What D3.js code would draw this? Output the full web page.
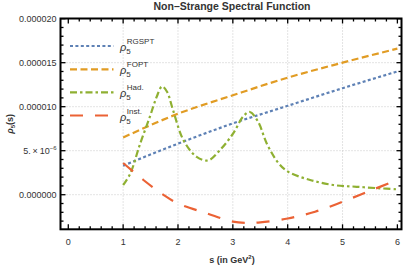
<!DOCTYPE html>
<html>
<head>
<meta charset="utf-8">
<script src="https://cdn.jsdelivr.net/npm/d3@7"></script>
<style>
  body { margin: 0; background: #fff; }
  text { font-family: "Liberation Sans", Arial, sans-serif; }
</style>
</head>
<body>
<div id="chart"></div>
<script>
// values (rho in units of 1e-6)
let sRGSPT = [1, 2, 3, 4, 5, 6];
let vRGSPT = [3.3, 5.8, 8.1, 10.1, 12.1, 14.0];

let sFOPT = [1, 2, 3, 4, 5, 6];
let vFOPT = [6.5, 9.2, 11.3, 13.3, 15.0, 16.6];

let sHad = [1, 1.13, 1.31, 1.49, 1.61, 1.71, 1.8, 1.91, 2.1, 2.34, 2.55, 2.77, 3.01, 3.19, 3.31, 3.46, 3.62, 3.83, 4.01, 4.41, 4.83, 5.26, 5.68, 6];
let vHad = [1.1, 2.4, 5.8, 8.9, 11.1, 12.3, 11.7, 9.6, 6.2, 4.3, 3.9, 5.1, 7.0, 8.9, 9.4, 8.3, 5.8, 3.6, 2.6, 1.67, 1.1, 0.9, 0.73, 0.61];

let sInst = [1, 1.37, 1.73, 2, 2.52, 3, 3.3, 3.5, 4, 4.5, 5, 5.5, 6];
let vInst = [3.6, 1.67, 0, -1.0, -2.1, -3.05, -3.2, -3.14, -2.7, -1.93, -0.8, 0.45, 1.67];

let xTicks = [0, 1, 2, 3, 4, 5, 6];
let yTicks = [0, 5, 10, 15, 20];
let yTickLabels = ["0.000000", "5.\u2009\u00d7\u200910", "0.000010", "0.000015", "0.000020"];

let seriesNames = ["RGSPT", "FOPT", "Had.", "Inst."];

let width = 407, height = 267;
let plotL = 60.5, plotR = 401.5, plotT = 18.5, plotB = 229.3;

let x = d3.scaleLinear().domain([-0.142, 6.075]).range([plotL, plotR]);
let y = d3.scaleLinear().domain([-3.93, 20.02]).range([plotB, plotT]);

let svg = d3.select("#chart").append("svg")
  .attr("width", width)
  .attr("height", height);

// grid
let grid = svg.append("g")
  .attr("stroke", "#c8c8c8")
  .attr("stroke-width", 1)
  .attr("stroke-dasharray", "1,2");

[1, 2, 3, 4, 5].forEach(function(t) {
  grid.append("line")
    .attr("x1", x(t)).attr("x2", x(t))
    .attr("y1", plotT).attr("y2", plotB);
});
[0, 5, 10, 15].forEach(function(t) {
  grid.append("line")
    .attr("x1", plotL).attr("x2", plotR)
    .attr("y1", y(t)).attr("y2", y(t));
});

// series
let series = [
  { s: sRGSPT, v: vRGSPT, color: "#5e81b5", dash: "3,2.4", curve: d3.curveMonotoneX },
  { s: sFOPT, v: vFOPT, color: "#e19c24", dash: "7,3.5", curve: d3.curveMonotoneX },
  { s: sHad, v: vHad, color: "#8fb032", dash: "7,3,2.5,3", curve: d3.curveCatmullRom },
  { s: sInst, v: vInst, color: "#eb6235", dash: "13,12", curve: d3.curveCatmullRom }
];

let line = d3.line()
  .x(function(d) { return x(d[0]); })
  .y(function(d) { return y(d[1]); });

svg.append("clipPath").attr("id", "plot-clip")
  .append("rect")
  .attr("x", plotL).attr("y", plotT)
  .attr("width", plotR - plotL).attr("height", plotB - plotT);

series.forEach(function(sr) {
  svg.append("path")
    .datum(d3.zip(sr.s, sr.v))
    .attr("d", line.curve(sr.curve))
    .attr("fill", "none")
    .attr("stroke", sr.color)
    .attr("stroke-width", 2.2)
    .attr("stroke-dasharray", sr.dash)
    .attr("clip-path", "url(#plot-clip)");
});

// frame ticks (inward, all four sides)
let ticks = svg.append("g").attr("stroke", "#000").attr("stroke-width", 1.3);
d3.range(0, 31).forEach(function(i) {
  let t = i / 5;
  let len = (i % 5 === 0) ? 5 : 3;
  ticks.append("line").attr("x1", x(t)).attr("x2", x(t)).attr("y1", plotB).attr("y2", plotB - len);
  ticks.append("line").attr("x1", x(t)).attr("x2", x(t)).attr("y1", plotT).attr("y2", plotT + len);
});
d3.range(-3, 21).forEach(function(t) {
  let len = (t % 5 === 0) ? 5 : 3;
  ticks.append("line").attr("x1", plotL).attr("x2", plotL + len).attr("y1", y(t)).attr("y2", y(t));
  ticks.append("line").attr("x1", plotR).attr("x2", plotR - len).attr("y1", y(t)).attr("y2", y(t));
});

svg.append("rect")
  .attr("x", plotL).attr("y", plotT)
  .attr("width", plotR - plotL).attr("height", plotB - plotT)
  .attr("fill", "none")
  .attr("stroke", "#000")
  .attr("stroke-width", 2);

// tick labels
xTicks.forEach(function(t) {
  svg.append("text")
    .attr("x", x(t)).attr("y", 245)
    .attr("text-anchor", "middle")
    .attr("font-size", 9)
    .attr("fill", "#333")
    .text(t);
});

yTicks.forEach(function(t, i) {
  let txt = svg.append("text")
    .attr("x", plotL - 4).attr("y", y(t) + 3)
    .attr("text-anchor", "end")
    .attr("font-size", 9)
    .attr("fill", "#333");
  if (t === 5) {
    txt.append("tspan").text(yTickLabels[i]);
    txt.append("tspan").attr("dy", -4).attr("font-size", 6).text("\u22126");
  } else {
    txt.text(yTickLabels[i]);
  }
});

// titles
svg.append("text")
  .attr("x", 232).attr("y", 10)
  .attr("text-anchor", "middle")
  .attr("font-size", 10.5)
  .attr("font-weight", "bold")
  .attr("fill", "#333")
  .text("Non\u2013Strange Spectral Function");

let xl = svg.append("text")
  .attr("x", 232).attr("y", 263)
  .attr("text-anchor", "middle")
  .attr("font-size", 9)
  .attr("font-weight", "bold")
  .attr("fill", "#333");
xl.append("tspan").text("s (in GeV");
xl.append("tspan").attr("dy", -4).attr("font-size", 6).text("2");
xl.append("tspan").attr("dy", 4).text(")");

let yl = svg.append("text")
  .attr("transform", "translate(13," + ((plotT + plotB) / 2) + ") rotate(-90)")
  .attr("text-anchor", "middle")
  .attr("font-size", 9)
  .attr("font-weight", "bold")
  .attr("fill", "#333");
yl.append("tspan").attr("font-style", "italic").text("\u03c1");
yl.append("tspan").attr("dy", 2).attr("font-size", 6).text("5");
yl.append("tspan").attr("dy", -2).text("(s)");

// legend
let legendY = [46, 69.3, 92.3, 115.5];
series.forEach(function(sr, i) {
  svg.append("line")
    .attr("x1", 70).attr("x2", 113.5)
    .attr("y1", legendY[i]).attr("y2", legendY[i])
    .attr("stroke", sr.color)
    .attr("stroke-width", 2.2)
    .attr("stroke-dasharray", sr.dash);
  let t = svg.append("text")
    .attr("x", 120).attr("y", legendY[i] + 5)
    .attr("font-size", 11)
    .attr("fill", "#333");
  t.append("tspan").attr("font-style", "italic").text("\u03c1");
  t.append("tspan").attr("dy", 3).attr("font-size", 8).text("5");
  t.append("tspan").attr("dx", -4).attr("dy", -10).attr("font-size", 8).text(seriesNames[i]);
});
</script>
</body>
</html>
